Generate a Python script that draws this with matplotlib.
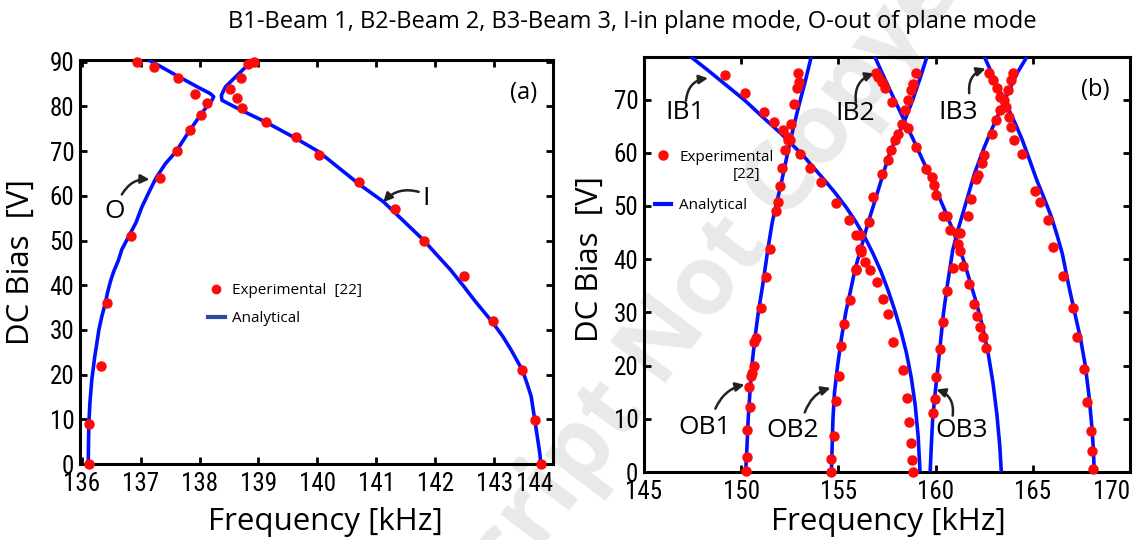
import matplotlib
matplotlib.use("Agg")
import matplotlib.pyplot as plt
from matplotlib.lines import Line2D
from matplotlib import font_manager

# ---------------- data: panel (a) ----------------
a_curve_O_f = [136.11, 136.115, 136.12, 136.14, 136.17, 136.22, 136.25, 136.29, 136.34, 136.40,
               136.44, 136.49, 136.54, 136.62, 136.68, 136.80, 136.92, 137.02, 137.14, 137.26,
               137.42, 137.60, 137.84, 138.06, 138.21, 138.24, 138.18, 137.96, 137.60, 137.29, 137.13]
a_curve_O_v = [0, 5, 9, 14, 18.8, 24, 26.5, 30, 33, 36,
               38.5, 41, 43, 45.5, 48, 51, 54, 57.5, 60.8, 64,
               67.2, 69.9, 74.8, 78.9, 81.4, 82.2, 82.9, 84.4, 87, 89.3, 90.4]
a_curve_I_f = [138.93, 138.82, 138.64, 138.44, 138.37, 138.38, 138.48, 138.70, 139.11, 139.63,
               140.02, 140.72, 141.12, 141.81, 142.00, 142.25, 142.47, 142.68, 142.98, 143.15,
               143.29, 143.48, 143.56, 143.63, 143.66, 143.69, 143.75, 143.78, 143.79]
a_curve_I_v = [90.4, 89.3, 87, 84.4, 82.5, 81.4, 80.7, 79.2, 76.6, 72.9,
               69.9, 62.5, 58.7, 50.0, 47.2, 43.6, 40.0, 36.4, 31.6, 28.5,
               25.5, 21, 18, 15.1, 12.5, 9.9, 4.7, 2, 0]
a_exp_O_f = [136.12, 136.12, 136.32, 136.42, 136.83, 137.33, 137.62, 137.83, 138.02, 138.13,
             137.93, 137.63, 137.22, 136.93]
a_exp_O_v = [0, 9, 22, 36.1, 51, 64, 70, 74.7, 78.2, 80.7, 82.7, 86.3, 88.9, 90]
a_exp_I_f = [138.93, 138.82, 138.71, 138.52, 138.63, 138.72, 139.12, 139.63, 140.02, 140.71,
             141.31, 141.81, 142.49, 142.98, 143.48, 143.69, 143.79]
a_exp_I_v = [90, 89.5, 86.3, 83.8, 81.8, 79.7, 76.6, 73.2, 69.1, 63.1,
             57.1, 50, 42, 32, 21, 9.9, 0]
a_xticks = [136, 137, 138, 139, 140, 141, 142, 143, 144]
a_yticks = [0, 10, 20, 30, 40, 50, 60, 70, 80, 90]

# ---------------- data: panel (b) ----------------
b_OB1_f = [150.23, 150.30, 150.36, 150.45, 150.55, 150.70, 150.88, 151.10, 151.39, 151.60,
           151.86, 152.10, 152.42, 152.70, 152.99, 153.30, 153.60]
b_OB1_v = [0, 5, 10, 15, 20, 25, 30, 35, 42.3, 47, 51.1, 55, 60.5, 65, 69.2, 73.5, 78]
b_IB1_f = [147.35, 148.29, 149.23, 150.17, 151.11, 152.05, 153.18, 154.30, 154.87, 155.43,
           155.90, 156.35, 156.80, 157.20, 157.55, 157.88, 158.20, 158.50, 158.75, 158.95,
           159.10, 159.20]
b_IB1_v = [78.2, 75.5, 72.7, 69.9, 66.7, 63.6, 59.5, 54.8, 52.3, 49.6,
           47.0, 44.2, 40.9, 37.6, 34.2, 30.6, 26.7, 22.4, 17.7, 12.6,
           6.8, 0]
b_OB2_f = [154.64, 154.68, 154.72, 154.80, 154.96, 155.15, 155.38, 155.62, 155.85, 156.18,
           156.50, 156.94, 157.31, 157.69, 158.35, 158.82, 159.20, 159.57]
b_OB2_v = [0, 5, 10, 15, 20, 25, 30, 34, 38, 42.3, 46.5, 51.7, 56.1, 60.5, 65.5, 69.9, 74, 78.2]
b_IB2_f = [156.84, 157.25, 157.65, 158.05, 158.45, 158.85, 159.25, 159.65, 160.05, 160.45,
           160.85, 161.20, 161.50, 161.80, 162.10, 162.40, 162.70, 162.95, 163.15, 163.30,
           163.38]
b_IB2_v = [78.3, 75, 71.8, 68.7, 65.6, 62.5, 59.3, 56.1, 52.8, 49.4,
           45.8, 42.4, 39.1, 35.4, 31.8, 27.6, 22.4, 16.8, 10.9, 5,
           0]
b_OB3_f = [159.72, 159.78, 159.85, 159.98, 160.13, 160.27, 160.41, 160.60, 160.88, 161.15,
           161.45, 162.00, 162.50, 162.95, 163.70, 164.20, 164.74]
b_OB3_v = [0, 5, 10, 15, 20, 25, 30, 35, 41.7, 45.5, 49.2, 56.1, 61, 64.9, 71.1, 75, 78.3]
b_IB3_f = [162.48, 163.05, 163.70, 164.10, 164.46, 164.85, 165.21, 165.60, 165.96, 166.25,
           166.52, 166.85, 167.15, 167.46, 167.70, 167.90, 168.05, 168.12, 168.16]
b_IB3_v = [78.3, 73.6, 68.6, 65.5, 62.4, 58.5, 54.8, 51.3, 47.9, 44.5,
           41.0, 35, 30, 25, 20, 14, 8, 4, 0]

b_exp_IB1_f = [149.19, 150.21, 151.17, 151.67, 152.14, 152.42, 152.52, 153.03, 153.52, 154.12,
               154.87, 155.53, 155.90, 156.13, 156.18, 156.37, 155.90, 156.60, 156.97, 157.31,
               157.56, 157.82, 158.31, 158.53, 158.63, 158.76, 158.78, 158.83]
b_exp_IB1_v = [74.7, 71.3, 67.7, 65.8, 64.2, 63.0, 62.4, 59.8, 57.1, 54.5,
               50.6, 47.4, 44.6, 42.0, 41.3, 39.5, 38.1, 37.9, 35.8, 32.6,
               29.7, 24.4, 19.1, 13.9, 9.4, 5.4, 2.3, 0]
b_exp_OB1_f = [152.93, 152.99, 152.89, 152.71, 152.56, 152.42, 152.24, 152.11, 152.01, 151.90,
               151.77, 151.48, 151.26, 151.00, 150.77, 150.68, 150.64, 150.55, 150.49, 150.41,
               150.45, 150.32, 150.32, 150.23]
b_exp_OB1_v = [74.9, 73.3, 72.1, 69.2, 65.4, 62.4, 60.5, 57.1, 53.8, 50.8,
               49.1, 41.9, 36.6, 30.9, 25.1, 24.4, 20.0, 18.6, 18.0, 16.0,
               12.25, 7.9, 2.9, 0.2]
b_exp_OB2_f = [159.00, 158.82, 158.72, 158.59, 158.44, 158.29, 158.06, 157.93, 157.69, 157.56,
               157.22, 156.80, 156.56, 156.09, 156.18, 155.90, 155.58, 155.28, 155.15, 155.02,
               154.89, 154.77, 154.64, 154.64]
b_exp_OB2_v = [74.9, 73.0, 71.8, 69.9, 68.0, 65.5, 63.6, 62.4, 60.5, 58.7,
               56.1, 51.7, 47.0, 44.5, 41.7, 38.0, 32.4, 27.8, 23.6, 18.1,
               13.3, 6.75, 2.4, 0]
b_exp_IB2_f = [156.94, 157.03, 157.22, 157.41, 157.74, 158.57, 159.00, 159.51, 159.81, 159.94,
               160.04, 160.38, 160.60, 160.73, 161.11, 161.26, 161.39, 161.73, 161.98, 162.14,
               162.30, 162.45, 162.58]
b_exp_IB2_v = [74.9, 74.3, 73.3, 72.1, 69.6, 64.7, 61.1, 57.0, 55.5, 54.0,
               52.0, 48.1, 48.1, 45.4, 45.0, 41.5, 38.7, 35.4, 31.6, 29.25,
               27.2, 25.4, 23.4]
b_exp_OB3_f = [163.98, 163.89, 163.70, 163.51, 163.33, 163.10, 162.91, 162.48, 162.38, 162.16,
               162.10, 161.82, 161.69, 161.26, 161.17, 160.88, 160.60, 160.36, 160.23, 160.04,
               159.98, 159.85]
b_exp_OB3_v = [74.9, 73.6, 71.8, 69.9, 68.0, 66.1, 63.6, 59.5, 58.0, 55.8,
               55.1, 51.4, 48.1, 45.0, 42.9, 38.3, 34.1, 28.2, 23.2, 17.9,
               13.8, 11.1]
b_exp_IB3_f = [162.76, 162.95, 163.14, 163.33, 163.61, 163.80, 163.89, 164.04, 164.42, 165.11,
               165.36, 165.77, 166.02, 166.56, 167.05, 167.27, 167.61, 167.80, 167.99, 168.06,
               168.12]
b_exp_IB3_v = [74.9, 73.6, 72.1, 70.5, 68.6, 66.7, 64.9, 62.4, 59.8, 52.9,
               50.8, 47.3, 42.3, 36.8, 30.9, 25.4, 19.4, 13.1, 7.7, 3.9,
               0.6]
b_xticks = [145, 150, 155, 160, 165, 170]
b_yticks = [0, 10, 20, 30, 40, 50, 60, 70]

title_text = "B1-Beam 1, B2-Beam 2, B3-Beam 3, I-in plane mode, O-out of plane mode"

# ---------------- styling ----------------
avail = {f.name for f in font_manager.fontManager.ttflist}
narrow = [n for n in ("Liberation Sans Narrow", "Roboto Condensed", "Open Sans Condensed",
                      "DejaVu Sans Condensed") if n in avail]
if narrow:
    tick_family = [narrow[0], "DejaVu Sans"]
    TICK_FS = 18
else:
    tick_family = ["Roboto", "DejaVu Sans"]
    TICK_FS = 16
text_family = ["Open Sans", "DejaVu Sans"]
plt.rcParams['font.family'] = text_family

RED = "#ff0a0a"
BLUE = "#0010ff"
LW = 2.6
MS = 6.5

fig = plt.figure(figsize=(11.42, 5.40), dpi=100)

fig.text(632 / 1142, 1 - 22 / 540, title_text, ha="center", va="center",
         fontsize=17, family=text_family)

# watermark
fig.text(551 / 1142, 1 - 494 / 540, "Accepted Manuscript Not Copyedited", rotation=53,
         ha="center", va="center", fontsize=70, fontweight="bold", color="#e9e9e9",
         family=text_family, zorder=-5)

axA = fig.add_axes([80 / 1142, 1 - 464 / 540, 473 / 1142, 404 / 540])
axB = fig.add_axes([644 / 1142, 1 - 472 / 540, 486 / 1142, 415 / 540])

for ax in (axA, axB):
    ax.set_facecolor("none")
    for s in ax.spines.values():
        s.set_linewidth(2.2)
    ax.tick_params(direction="in", length=5, width=2, top=True, right=True)
    ax.tick_params(axis="x", pad=6)
    ax.tick_params(axis="y", pad=4)

def mark(ax, f, v):
    ax.plot(f, v, linestyle="none", marker="o", ms=MS, color=RED, mec=RED, clip_on=False, zorder=4)

def curve(ax, f, v):
    ax.plot(f, v, color=BLUE, lw=LW, solid_capstyle="butt", solid_joinstyle="round", zorder=3)

def ticks(ax, xt, yt):
    ax.set_xticks(xt)
    ax.set_yticks(yt)
    xl = ax.set_xticklabels([str(t) for t in xt], family=tick_family, fontsize=TICK_FS)
    ax.set_yticklabels([str(t) for t in yt], family=tick_family, fontsize=TICK_FS)
    xl[-1].set_ha("right")

# ---- panel (a)
curve(axA, a_curve_O_f, a_curve_O_v)
curve(axA, a_curve_I_f, a_curve_I_v)
mark(axA, a_exp_O_f, a_exp_O_v)
mark(axA, a_exp_I_f, a_exp_I_v)
axA.set_xlim(135.97, 144)
axA.set_ylim(0, 90.4)
ticks(axA, a_xticks, a_yticks)
axA.set_xlabel("Frequency [kHz]", fontsize=22.5)
axA.set_ylabel("DC Bias  [V]", fontsize=22.5)
axA.xaxis.set_label_coords(0.518, -0.106)
axA.yaxis.set_label_coords(-0.093, 0.5)

axA.text(143.5, 83, "(a)", fontsize=17, ha="center", va="center")
arrow_kw = dict(arrowstyle="-|>", color="#222222", lw=1.8, mutation_scale=13, shrinkA=0, shrinkB=0)
axA.text(136.55, 56.5, "O", fontsize=19, ha="center", va="center")
axA.annotate("", xy=(137.15, 63.7), xytext=(136.68, 60.3),
             arrowprops=dict(connectionstyle="arc3,rad=-0.3", **arrow_kw))
axA.text(141.85, 59.5, "I", fontsize=19, ha="center", va="center")
axA.annotate("", xy=(141.12, 58.6), xytext=(141.72, 60.9),
             arrowprops=dict(connectionstyle="arc3,rad=0.3", **arrow_kw))

hA = [Line2D([], [], linestyle="none", marker="o", ms=6, color=RED),
      Line2D([], [], color="#2b4aa0", lw=3)]
axA.legend(hA, ["Experimental  [22]", "Analytical"], loc="upper left",
           bbox_to_anchor=(0.27, 0.447), frameon=False, fontsize=11,
           handlelength=1.1, handletextpad=0.5, labelspacing=0.85,
           borderpad=0, borderaxespad=0)

# ---- panel (b)
for f, v in ((b_OB1_f, b_OB1_v), (b_IB1_f, b_IB1_v), (b_OB2_f, b_OB2_v),
             (b_IB2_f, b_IB2_v), (b_OB3_f, b_OB3_v), (b_IB3_f, b_IB3_v)):
    curve(axB, f, v)
for f, v in ((b_exp_IB1_f, b_exp_IB1_v), (b_exp_OB1_f, b_exp_OB1_v),
             (b_exp_OB2_f, b_exp_OB2_v), (b_exp_IB2_f, b_exp_IB2_v),
             (b_exp_OB3_f, b_exp_OB3_v), (b_exp_IB3_f, b_exp_IB3_v)):
    mark(axB, f, v)
axB.set_xlim(145, 170)
axB.set_ylim(0, 78)
ticks(axB, b_xticks, b_yticks)
axB.set_xlabel("Frequency [kHz]", fontsize=22.5)
axB.set_ylabel("DC Bias  [V]", fontsize=22.5)
axB.xaxis.set_label_coords(0.502, -0.084)
axB.yaxis.set_label_coords(-0.08, 0.513)

axB.text(168.2, 71.8, "(b)", fontsize=17, ha="center", va="center")
for label, txy, start, end, rad in (
        ("IB1", (147.12, 67.5), (147.16, 69.8), (148.29, 74.0), -0.4),
        ("IB2", (155.85, 67.3), (155.90, 69.4), (156.84, 74.9), -0.4),
        ("IB3", (161.17, 67.6), (161.73, 71.2), (162.57, 75.8), -0.4),
        ("OB1", (148.1, 8.4), (148.67, 11.9), (150.17, 16.4), -0.25),
        ("OB2", (152.65, 7.8), (153.27, 11.2), (154.59, 15.8), -0.25),
        ("OB3", (161.35, 7.8), (160.88, 10.6), (160.04, 15.5), 0.4)):
    axB.text(txy[0], txy[1], label, fontsize=19, ha="center", va="center")
    axB.annotate("", xy=end, xytext=start,
                 arrowprops=dict(connectionstyle="arc3,rad=%g" % rad, **arrow_kw))

hB = [Line2D([], [], linestyle="none", marker="o", ms=6.5, color=RED),
      Line2D([], [], color=BLUE, lw=3)]
axB.legend(hB, ["Experimental", "Analytical"], loc="upper left",
           bbox_to_anchor=(0.022, 0.777), frameon=False, fontsize=11,
           handlelength=1.1, handletextpad=0.5, labelspacing=2.2,
           borderpad=0, borderaxespad=0)
axB.text(0.239, 0.718, "[22]", transform=axB.transAxes, fontsize=11,
         ha="right", va="center")

fig.savefig("out.png", dpi=100)
